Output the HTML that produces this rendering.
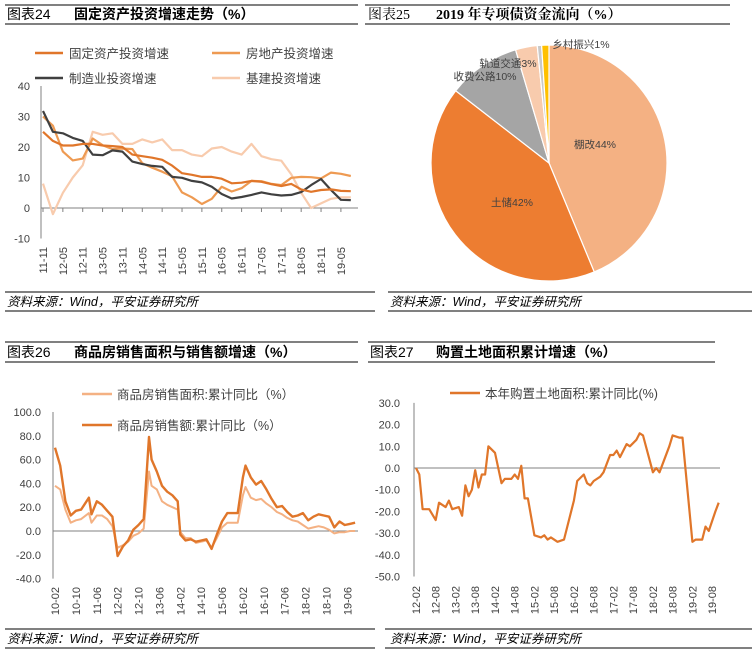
<!DOCTYPE html>
<html><head><meta charset="utf-8">
<style>
body{margin:0;background:#fff;}
svg{display:block;font-family:"Liberation Sans","Noto Sans CJK SC",sans-serif;}
.t{font-size:11px;fill:#404040;}
.lg{font-size:12.5px;fill:#404040;}
.ttl{font-size:14px;fill:#000;}
.src{font-size:12.5px;font-style:italic;fill:#000;}
</style></head>
<body>
<svg id="s" width="752" height="654" viewBox="0 0 752 654">
<g>
<line x1="5" y1="5" x2="358" y2="5" stroke="#000"/><line x1="5" y1="24" x2="358" y2="24" stroke="#000"/>
<text x="7" y="19" class="ttl">图表24</text><text x="74" y="19" class="ttl" font-weight="bold">固定资产投资增速走势（%）</text>
</g>
<g>
<line x1="365" y1="5" x2="730" y2="5" stroke="#000"/><line x1="365" y1="24" x2="730" y2="24" stroke="#000"/>
<text x="368" y="19" class="ttl" font-family="Liberation Serif,Noto Serif CJK SC,serif">图表25</text><text x="436" y="19" class="ttl" font-weight="bold" font-family="Liberation Serif,Noto Serif CJK SC,serif">2019 年专项债资金流向（%）</text>
</g>
<g>
<line x1="5" y1="342" x2="358" y2="342" stroke="#000"/><line x1="5" y1="362" x2="358" y2="362" stroke="#000"/>
<text x="7" y="357" class="ttl">图表26</text><text x="74" y="357" class="ttl" font-weight="bold">商品房销售面积与销售额增速（%）</text>
</g>
<g>
<line x1="368" y1="342" x2="715" y2="342" stroke="#000"/><line x1="368" y1="362" x2="715" y2="362" stroke="#000"/>
<text x="370" y="357" class="ttl">图表27</text><text x="436" y="357" class="ttl" font-weight="bold">购置土地面积累计增速（%）</text>
</g>
<g>
<line x1="5" y1="292" x2="375" y2="292" stroke="#000"/><line x1="5" y1="311" x2="375" y2="311" stroke="#000"/>
<text x="7" y="306" class="src">资料来源：Wind，平安证券研究所</text>
<line x1="388" y1="292" x2="752" y2="292" stroke="#000"/><line x1="388" y1="311" x2="752" y2="311" stroke="#000"/>
<text x="390" y="306" class="src">资料来源：Wind，平安证券研究所</text>
<line x1="5" y1="629" x2="375" y2="629" stroke="#000"/><line x1="5" y1="648" x2="375" y2="648" stroke="#000"/>
<text x="7" y="643" class="src">资料来源：Wind，平安证券研究所</text>
<line x1="385" y1="629" x2="752" y2="629" stroke="#000"/><line x1="385" y1="648" x2="752" y2="648" stroke="#000"/>
<text x="390" y="643" class="src">资料来源：Wind，平安证券研究所</text>
</g>
<g id="c1"></g>
<g id="c2"></g>
<g id="c3"></g>
<g id="c4"></g>
</svg>
<script>
// Chart 24 data (months since 2011-11, every 3 months)
const c1Months=[0,3,6,9,12,15,18,21,24,27,30,33,36,39,42,45,48,51,54,57,60,63,66,69,72,75,78,81,84,87,90,93];
const c1Fixed=[25,22,20.5,20.5,21,21,20.5,20.3,20,17.5,17,16.5,15.8,13.9,11.4,10.9,10.2,10.2,9.6,8.1,8.3,8.9,8.6,7.8,7.2,7.9,6.1,5.3,5.9,6.1,5.6,5.5];
const c1Estate=[30,27,18.5,15.6,16.2,22.8,20.6,19.3,19.5,19.3,14.7,13.2,11.9,10.4,5.1,3.5,1.3,3,7,5.4,6.5,8.9,8.8,7.9,7.5,9.9,10.2,10.1,9.7,11.6,11.2,10.5];
const c1Manu=[31.8,25,24.5,23,22,17.5,17.3,18.9,18.5,15.2,14.4,13.8,13.5,10.2,9.9,8.9,8.4,7,4.6,3.1,3.6,4.3,5.1,4.5,4.1,4.3,5.2,7.5,9.5,5.9,2.7,2.6];
const c1Infra=[8,-2,5,10,14,25,24,24.5,21,21,22.5,21.5,22.5,19,19,17.5,17,19.5,20,18.5,17.5,21,17,16,15.5,11,5,0,1.5,3,3.5,3.5];
const c1YTicks=[40,30,20,10,0,-10];
const c1XLabels=["11-11","12-05","12-11","13-05","13-11","14-05","14-11","15-05","15-11","16-05","16-11","17-05","17-11","18-05","18-11","19-05"];
// Chart 25 pie
const pieLabels=["棚改44%","土储42%","收费公路10%","轨道交通3%","","乡村振兴1%"];
const pieValues=[44,42,10,3,0.6,1];
const pieColors=["#F4B183","#ED7D31","#A5A5A5","#F8CBAD","#C9C9C9","#FFC000"];
// Chart 26 (months since 2010-02)
const c3Months=[0,2,4,6,8,10,13,14,16,18,20,22,24,26,28,30,32,34,36,37,39,41,43,45,47,48,50,52,54,56,58,60,62,64,66,68,70,72,73,75,77,79,81,83,85,87,89,91,93,95,97,99,101,103,105,107,109,111,113,115];
const c3Amount=[70,55,25,13,17,18,28,14,25,22,17,12,-21,-13,-8,1,5,10,79,60,50,38,33,30,25,-3,-8,-7,-9,-8,-7,-15,-3,8,15,15,15,45,55,45,39,42,35,27,20,21,16,12,13,15,9,12,14,13,12,3,8,5,6,7];
const c3Area=[38,35,18,7,9,10,15,7,13,13,10,4,-14,-12,-9,-4,-2,2,50,38,35,25,22,20,18,-1,-6,-6,-10,-9,-8,-14,-6,3,7,7,7,30,37,28,26,27,23,20,16,14,11,9,8,5,2,3,4,3,1,-2,-1,-1,0,0];
const c3YTicks=[100,80,60,40,20,0,-20,-40];
const c3XLabels=["10-02","10-10","11-06","12-02","12-10","13-06","14-02","14-10","15-06","16-02","16-10","17-06","18-02","18-10","19-06"];
// Chart 27 (months since 2012-02)
const c4Months=[0,1,2,4,6,7,9,10,11,13,14,15,16,17,18,19,20,21,22,24,26,27,29,30,31,32,33,34,36,38,39,40,41,43,45,48,49,51,52,53,54,56,57,59,60,61,62,64,65,67,68,69,72,73,74,77,78,80,81,84,85,87,88,89,91,92];
const c4Land=[0,-3,-19,-19,-24,-16,-18,-15,-19,-18,-22,-8,-13,-10,-1,-9,-3,-3,10,7,-7,-5,-5,-3,-5,1,-14,-14,-31,-32,-31,-33,-32,-34,-33,-15,-6,-3,-7,-8,-6,-4,-2,6,6,8,5,11,10,13,16,15,-2,0,-2,10,15,14,14,-34,-33,-33,-27,-29,-20,-16];
const c4YTicks=[30,20,10,0,-10,-20,-30,-40,-50];
const c4XLabels=["12-02","12-08","13-02","13-08","14-02","14-08","15-02","15-08","16-02","16-08","17-02","17-08","18-02","18-08","19-02","19-08"];

const NS="http://www.w3.org/2000/svg";
function mk(p,tag,at,txt){const e=document.createElementNS(NS,tag);for(const k in at)e.setAttribute(k,at[k]);if(txt!==undefined)e.textContent=txt;p.appendChild(e);return e;}
function pathOf(ms,vs,fx,fy){return ms.map((m,i)=>(i?'L':'M')+fx(m).toFixed(1)+','+fy(vs[i]).toFixed(1)).join('');}

// ---- Chart 24
(function(){
const g=document.getElementById('c1');
const x=m=>43+m*3.31, y=v=>208-v*3.05;
for(const t of c1YTicks){const tl=mk(g,'text',{x:30,y:y(t)+4,'text-anchor':'end',class:'t'},String(t));

}
const ax=mk(g,'line',{x1:41,y1:y(40),x2:41,y2:y(-10),stroke:'#808080'});


const xa=mk(g,'line',{x1:41,y1:208,x2:358,y2:208,stroke:'#808080'});


c1XLabels.forEach((l,i)=>{const xx=x(i*6);mk(g,'line',{x1:xx,y1:208,x2:xx,y2:212,stroke:'#808080'});
const tl=mk(g,'text',{x:0,y:0,transform:`translate(${xx+4},247) rotate(-90)`,'text-anchor':'end',class:'t'},l);

});
const ser=[[c1Infra,'#F8CBAD','infra-line'],[c1Estate,'#EE9A52','real-estate-line'],[c1Manu,'#404040','manufacturing-line'],[c1Fixed,'#E0762A','fixed-asset-line']];
for(const [d,c,n] of ser){const p=mk(g,'path',{d:pathOf(c1Months,d,x,y),fill:'none',stroke:c,'stroke-width':2.2,'stroke-linejoin':'round'});

}
const leg=[[35,53,'#E0762A','固定资产投资增速'],[212,53,'#EE9A52','房地产投资增速'],[35,78,'#404040','制造业投资增速'],[212,78,'#F8CBAD','基建投资增速']];
for(const [lx,ly,c,t] of leg){const le=mk(g,'g',{});


mk(le,'line',{x1:lx,y1:ly,x2:lx+28,y2:ly,stroke:c,'stroke-width':2.5});mk(le,'text',{x:lx+34,y:ly+5,class:'lg'},t);}
})();

// ---- Chart 25 pie
(function(){
const g=document.getElementById('c2');
const cx=549,cy=163,r=118;const tot=pieValues.reduce((a,b)=>a+b,0);let a0=0;
pieValues.forEach((v,i)=>{const a1=a0+v/tot*2*Math.PI;
const p1=[cx+r*Math.sin(a0),cy-r*Math.cos(a0)],p2=[cx+r*Math.sin(a1),cy-r*Math.cos(a1)];
const s=mk(g,'path',{d:`M${cx},${cy}L${p1[0]},${p1[1]}A${r},${r} 0 ${a1-a0>Math.PI?1:0} 1 ${p2[0]},${p2[1]}Z`,fill:pieColors[i],stroke:'#fff','stroke-width':1.2});


a0=a1;});
const lp=[[595,148],[512,206],[485,80],[508,67],[0,0],[581,48]];
pieLabels.forEach((l,i)=>{if(!l)return;const t=mk(g,'text',{x:lp[i][0],y:lp[i][1],'text-anchor':'middle','font-size':'10.5px',fill:'#404040'},l);

});
})();

// ---- Chart 26
(function(){
const g=document.getElementById('c3');
const x=m=>55+m*2.61, y=v=>531-v*1.19;
for(const t of c3YTicks){const tl=mk(g,'text',{x:41,y:y(t)+4,'text-anchor':'end',class:'t'},t.toFixed(1));

}
const ax=mk(g,'line',{x1:53,y1:y(100),x2:53,y2:y(-40),stroke:'#808080'});


const xa=mk(g,'line',{x1:53,y1:531,x2:358,y2:531,stroke:'#808080'});


c3XLabels.forEach((l,i)=>{const xx=x(i*8);
const tl=mk(g,'text',{x:0,y:0,transform:`translate(${xx+4},587) rotate(-90)`,'text-anchor':'end',class:'t'},l);

});
const p1=mk(g,'path',{d:pathOf(c3Months,c3Area,x,y),fill:'none',stroke:'#F4B183','stroke-width':2,'stroke-linejoin':'round'});


const p2=mk(g,'path',{d:pathOf(c3Months,c3Amount,x,y),fill:'none',stroke:'#E0762A','stroke-width':2.4,'stroke-linejoin':'round'});


const leg=[[394,'#F4B183','商品房销售面积:累计同比（%）'],[425,'#E0762A','商品房销售额:累计同比（%）']];
for(const [ly,c,t] of leg){const le=mk(g,'g',{});


mk(le,'line',{x1:82,y1:ly,x2:112,y2:ly,stroke:c,'stroke-width':2.5});mk(le,'text',{x:117,y:ly+5,class:'lg'},t);}
})();

// ---- Chart 27
(function(){
const g=document.getElementById('c4');
const x=m=>416+m*3.29, y=v=>468-v*2.17;
for(const t of c4YTicks){const tl=mk(g,'text',{x:400,y:y(t)+4,'text-anchor':'end',class:'t'},t.toFixed(1));

}
const ax=mk(g,'line',{x1:414,y1:y(30),x2:414,y2:y(-50),stroke:'#808080'});


const xa=mk(g,'line',{x1:414,y1:468,x2:720,y2:468,stroke:'#808080'});


c4XLabels.forEach((l,i)=>{const xx=x(i*6);
const tl=mk(g,'text',{x:0,y:0,transform:`translate(${xx+4},586) rotate(-90)`,'text-anchor':'end',class:'t'},l);

});
const p=mk(g,'path',{d:pathOf(c4Months,c4Land,x,y),fill:'none',stroke:'#E0762A','stroke-width':2.2,'stroke-linejoin':'round'});


const le=mk(g,'g',{});


mk(le,'line',{x1:450,y1:393,x2:480,y2:393,stroke:'#E0762A','stroke-width':2.5});mk(le,'text',{x:485,y:398,class:'lg'},'本年购置土地面积:累计同比(%)');
})();
</script>
</body></html>
